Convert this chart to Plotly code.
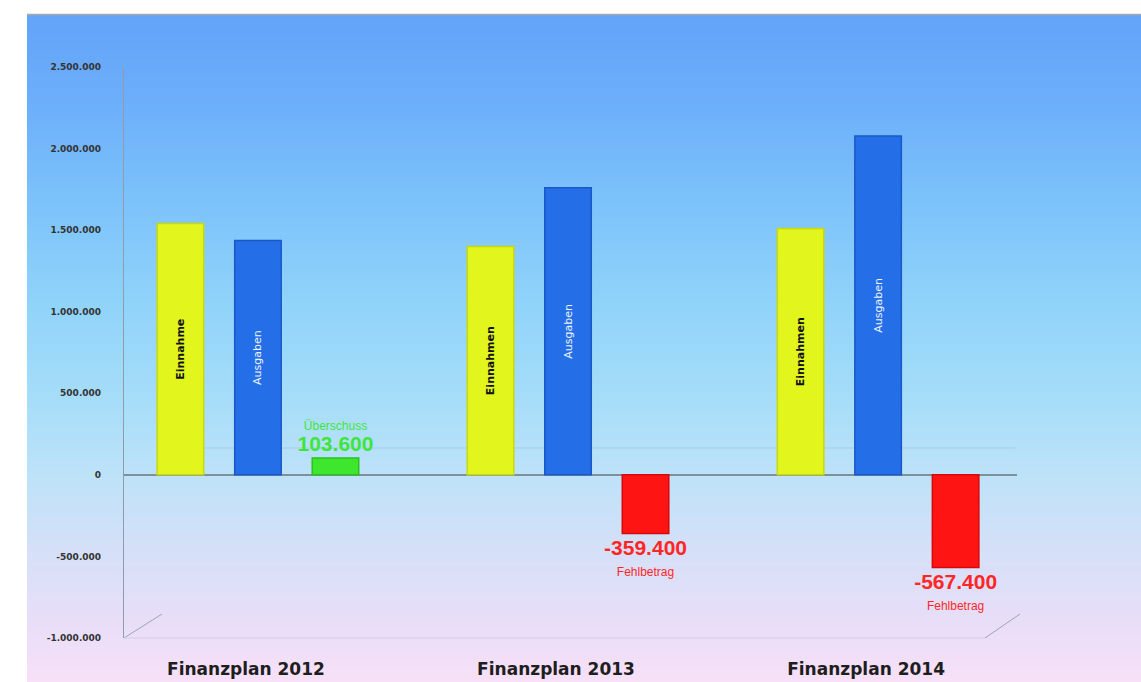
import plotly.graph_objects as go

# ---- data ----
categories = ["Finanzplan 2012", "Finanzplan 2013", "Finanzplan 2014"]
einnahmen = [1540000, 1400000, 1510000]
ausgaben = [1436400, 1759400, 2077400]
saldo = [103600, -359400, -567400]
einnahmen_labels = ["Einnahme", "Einnahmen", "Einnahmen"]
ausgaben_labels = ["Ausgaben", "Ausgaben", "Ausgaben"]
ytick_vals = [2500000, 2000000, 1500000, 1000000, 500000, 0, -500000, -1000000]
ytick_text = ["2.500.000", "2.000.000", "1.500.000", "1.000.000", "500.000", "0", "-500.000", "-1.000.000"]

W, H = 1141, 682
L, R, T, B = 124, 124, 67, 44
PW, PH = W - L - R, H - T - B


def de(v):
    s = f"{abs(v):,}".replace(",", ".")
    return ("-" if v < 0 else "") + s


saldo_colors = ["#3fe62e" if v >= 0 else "#ff1414" for v in saldo]
saldo_text = []
for v in saldo:
    if v >= 0:
        saldo_text.append("<span style='font-size:12px'>Überschuss</span><br><span style='font-size:21px'><b>" + de(v) + "</b></span>")
    else:
        saldo_text.append("<span style='font-size:21px'><b>" + de(v) + "</b></span><br><span style='font-size:12px'>Fehlbetrag</span>")

fig = go.Figure()
fig.add_trace(go.Bar(
    x=categories, y=einnahmen, name="Einnahmen",
    marker=dict(color="#e2f51c", line=dict(color="#c8d80e", width=1.5)),
    text=einnahmen_labels, textposition="inside", insidetextanchor="middle",
    textangle=-90, constraintext="none",
    textfont=dict(family="DejaVu Sans", size=11, color="#111111", weight="bold"),
))
fig.add_trace(go.Bar(
    x=categories, y=ausgaben, name="Ausgaben",
    marker=dict(color="#246ee8", line=dict(color="#1a58c8", width=1.5)),
    text=ausgaben_labels, textposition="inside", insidetextanchor="middle",
    textangle=-90, constraintext="none",
    textfont=dict(family="DejaVu Sans", size=11, color="#eef3ff"),
))
fig.add_trace(go.Bar(
    x=categories, y=saldo, name="Saldo",
    marker=dict(color=saldo_colors, line=dict(color=["#2cc020" if v >= 0 else "#d80808" for v in saldo], width=1.5)),
    text=saldo_text, textposition="outside", constraintext="none", cliponaxis=False,
    textangle=0,
    textfont=dict(family="Liberation Sans", size=16, color=[("#3ee63a" if v >= 0 else "#ff2626") for v in saldo]),
))

# gradient background (figure-wide) via stacked rectangles in paper coords
stops = [(15, (0x63, 0xa3, 0xf9)), (100, (0x6c, 0xae, 0xfa)), (200, (0x7c, 0xc2, 0xfa)),
         (300, (0x8f, 0xd3, 0xfa)), (400, (0xa6, 0xdd, 0xf9)), (475, (0xbd, 0xe2, 0xf8)),
         (550, (0xd5, 0xe0, 0xf8)), (620, (0xe8, 0xde, 0xf8)), (682, (0xf7, 0xe0, 0xf8))]


def col_at(y):
    for (y0, c0), (y1, c1) in zip(stops[:-1], stops[1:]):
        if y0 <= y <= y1:
            t = (y - y0) / (y1 - y0)
            return "rgb(%d,%d,%d)" % tuple(round(a + (b - a) * t) for a, b in zip(c0, c1))
    return "rgb(%d,%d,%d)" % stops[-1][1]


def px_x(x):
    return (x - L) / PW


def px_y(y):
    return (H - B - y) / PH


shapes = []
step = 4
y = 15
while y < H:
    y2 = min(y + step, H)
    shapes.append(dict(type="rect", xref="paper", yref="paper", layer="below",
                       x0=px_x(27), x1=px_x(W + 2), y0=px_y(y2 + 3), y1=px_y(y),
                       fillcolor=col_at(y + step / 2), line=dict(width=0)))
    y = y2
# top border line
shapes.append(dict(type="line", xref="paper", yref="paper", layer="below",
                   x0=px_x(27), x1=px_x(W + 2), y0=px_y(14.5), y1=px_y(14.5),
                   line=dict(color="#a8a8a8", width=1.5)))
# faint 3D floor lines
for (xa, ya, xb, yb) in [(124, 638, 162, 614), (985, 638, 1020, 614)]:
    shapes.append(dict(type="line", xref="paper", yref="paper", layer="below",
                       x0=px_x(xa), y0=px_y(ya), x1=px_x(xb), y1=px_y(yb),
                       line=dict(color="#9aa4b4", width=1)))
shapes.append(dict(type="line", xref="paper", yref="paper", layer="below",
                   x0=px_x(124), y0=px_y(638), x1=px_x(985), y1=px_y(638),
                   line=dict(color="#d0d0e4", width=1)))
shapes.append(dict(type="line", xref="paper", yref="paper", layer="below",
                   x0=px_x(160), y0=px_y(448), x1=px_x(1015), y1=px_y(448),
                   line=dict(color="rgba(150,190,210,0.5)", width=1)))

fig.update_layout(
    width=W, height=H,
    margin=dict(l=L, r=R, t=T, b=B, pad=0, autoexpand=False),
    paper_bgcolor="white", plot_bgcolor="rgba(0,0,0,0)",
    barmode="group", bargap=0.25, bargroupgap=0.4,
    showlegend=False,
    shapes=shapes,
    xaxis=dict(
        range=[-0.432, 2.448], showgrid=False, zeroline=False, showline=False,
        automargin=False,
        ticks="", ticklabelstandoff=19, ticklabelshift=-12,
        tickfont=dict(family="DejaVu Sans", size=17, color="#1e1e1e", weight="bold"),
    ),
    yaxis=dict(
        range=[-1000000, 2500000], tickvals=ytick_vals, ticktext=ytick_text,
        automargin=False,
        showgrid=False, zeroline=True, zerolinecolor="#7f8f9c", zerolinewidth=1.5,
        showline=True, linecolor="#8e9cab", linewidth=1.2, ticks="",
        ticklabelstandoff=20,
        tickfont=dict(family="DejaVu Sans", size=9, color="#333333", weight="bold"),
    ),
)

fig.write_html("out.html")
